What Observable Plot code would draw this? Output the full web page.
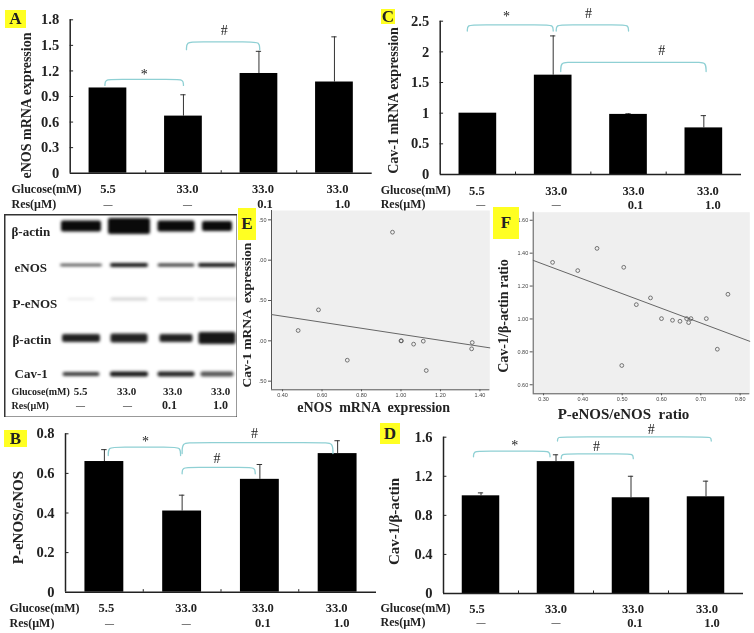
<!DOCTYPE html>
<html><head><meta charset="utf-8">
<style>
html,body{margin:0;padding:0;background:#fff;overflow:hidden}
#fig{position:relative;width:754px;height:633px;overflow:hidden;filter:blur(0.45px)}
#fig svg{position:absolute;background:transparent;max-width:none}
.tag{position:absolute;background:#ffff22;font:bold 17px "Liberation Serif",serif;color:#222;display:flex;align-items:center;justify-content:center}
</style>
<script src="https://cdn.jsdelivr.net/npm/d3@7"></script>
<script src="https://cdn.jsdelivr.net/npm/@observablehq/plot@0.6"></script>
</head><body><div id="fig"></div>
<script>
const serif = '"Liberation Serif", serif';
const teal = "#8fd0d4";

// ---------- bar panels data ----------
const glucose = ["5.5","33.0","33.0","33.0"];
const res = ["—","—","0.1","1.0"];

const valuesA = [1.0,0.67,1.17,1.07];
const errorsA = [null,0.92,1.43,1.60];
const ticksA = [0,0.3,0.6,0.9,1.2,1.5,1.8];

const valuesB = [0.66,0.41,0.57,0.70];
const errorsB = [0.72,0.49,0.645,0.765];
const ticksB = [0,0.2,0.4,0.6,0.8];

const valuesC = [1.0,1.62,0.98,0.76];
const errorsC = [null,2.26,0.99,0.96];
const ticksC = [0,0.5,1,1.5,2,2.5];

const valuesD = [1.0,1.35,0.98,0.99];
const errorsD = [1.03,1.42,1.20,1.15];
const ticksD = [0,0.4,0.8,1.2,1.6];

// ---------- scatter data ----------
const eX = [0.479,0.582,0.957,0.728,1.0,1.002,1.064,1.113,1.128,1.361,1.358];
const eY = [1.128,1.384,2.347,0.76,1.0,1.0,0.959,0.996,0.632,0.979,0.901];
const eFitX = [0.344,1.45];
const eFitY = [1.326,0.913];

const fX = [0.323,0.387,0.436,0.504,0.536,0.572,0.600,0.628,0.647,0.664,0.669,0.675,0.714,0.742,0.769,0.499];
const fY = [1.344,1.294,1.429,1.314,1.087,1.128,1.002,0.992,0.986,1.002,0.978,1.002,1.002,0.816,1.150,0.717];
const fFitX = [0.2737,0.8246];
const fFitY = [1.356,0.864];

// ---------- blot data ----------
const blotRows = ["β-actin","eNOS","P-eNOS","β-actin","Cav-1"];
const bandLength = [[40,42,37,30],[42,38,37,38],[27,37,37,40],[38,37,33,37],[37,38,37,33]];
const bandThick  = [[11,16,11,10],[2.5,4,3,4],[1.5,3,2.5,2],[8,9,8,12],[4,5,5,5]];
const bandDark   = [[1,1,1,1],[.75,.95,.85,.95],[.12,.18,.16,.16],[.9,.9,.9,.95],[.8,.95,.9,.7]];

const root = document.getElementById("fig");
function place(svg, left, top){ svg.style.left = left+"px"; svg.style.top = top+"px"; root.appendChild(svg); }
function tag(t,l,tp,w,h){ const d=document.createElement("div"); d.className="tag"; d.textContent=t;
  Object.assign(d.style,{left:l+"px",top:tp+"px",width:w+"px",height:h+"px"}); root.appendChild(d); }

function bracketLine(b){
  const [x1,x2,yb,yt] = b, c = 0.12;
  return [[x1,yb],[x1,yt],[x1+c,yt],[x2-c,yt],[x2,yt],[x2,yb]];
}

function barPanel(p){
  const data = p.values.map((v,i)=>({i:i+1,v,e:p.errors[i]}));
  const errs = data.filter(d=>d.e!=null);
  const w = p.w, h = p.h;
  const labelMarks = (arr,nudge,dy) => arr.map((t,i)=>Plot.text([t],{
    x:()=>i+1, frameAnchor:"bottom", lineAnchor:"middle", dy, dx:nudge[i], text:d=>d,
    fontSize: t==="—" ? 9 : 12.5, fontWeight:"bold", fill:"#222"}));
  const svg = Plot.plot({
    width:w, height:h,
    marginLeft:p.fx0-p.left, marginRight:p.left+w-p.fx1,
    marginTop:p.ftop-p.top, marginBottom:p.top+h-p.fbot,
    style:{fontFamily:serif,background:"transparent"},
    x:{type:"linear",domain:[0.5,4.5],axis:null},
    y:{type:"linear",domain:[0,p.max],axis:null},
    marks:[
      Plot.ruleX(errs,{x:"i",y1:"v",y2:"e",stroke:"#333",strokeWidth:1}),
      Plot.ruleY(errs,{x1:d=>d.i-0.035,x2:d=>d.i+0.035,y:"e",stroke:"#333",strokeWidth:1}),
      Plot.rectY(data,{x1:d=>d.i-0.25,x2:d=>d.i+0.25,y1:()=>0,y2:"v",fill:"#000"}),
      Plot.ruleX([0.5],{stroke:"#222",strokeWidth:1.5}),
      Plot.ruleY([0],{stroke:"#222",strokeWidth:1.5}),
      Plot.axisY({ticks:p.ticks,tickFormat:d=>String(d),tickSize:0,tickPadding:11,label:null,fontSize:14.5,fontWeight:"bold",fill:"#222"}),
      Plot.ruleY(p.ticks.slice(1),{x1:()=>0.5,x2:()=>0.545,stroke:"#222",strokeWidth:1}),
      Plot.ruleX([1.5,2.5,3.5],{y1:()=>0,y2:()=>p.max*0.016,stroke:"#222"}),
      ...p.brackets.map(b=>Plot.line(bracketLine(b),{x:d=>d[0],y:d=>d[1],curve:"basis",stroke:teal,strokeWidth:1.3})),
      ...p.notes.map(n=>Plot.text([n[0]],{x:()=>n[1],y:()=>n[2],text:d=>d,fontSize:14,fontWeight:"normal",fill:"#222"})),
      Plot.text([p.title],{x:()=>p.titleXY[0],y:()=>p.titleXY[1],text:d=>d,rotate:-90,fontSize:p.titleSize,fontWeight:"bold",fill:"#222"}),
      Plot.text(["Glucose(mM)"],{x:()=>p.rowX,frameAnchor:"bottom",lineAnchor:"middle",dy:p.dy[0],textAnchor:"start",text:d=>d,fontSize:12,fontWeight:"bold",fill:"#222"}),
      Plot.text(["Res(µM)"],{x:()=>p.rowX,frameAnchor:"bottom",lineAnchor:"middle",dy:p.dy[1],textAnchor:"start",text:d=>d,fontSize:12,fontWeight:"bold",fill:"#222"}),
      ...labelMarks(glucose,p.n1,p.dy[0]),
      ...labelMarks(res,p.n2,p.dy[1])
    ]
  });
  place(svg,p.left,p.top);
}

barPanel({left:0,top:0,w:377,h:212,fx0:69.7,fx1:371.7,ftop:19.3,fbot:172.7,max:1.8,
  values:valuesA,errors:errorsA,ticks:ticksA,title:"eNOS mRNA expression",titleSize:14,titleXY:[-0.08,0.794],
  rowX:-0.278,dy:[16,31],n1:[0,4,4,3],n2:[0,4,6,8],
  brackets:[[0.96,2.0,1.03,1.10],[2.04,3.01,1.45,1.54]],
  notes:[["*",1.48,1.16],["#",2.54,1.67]]});

barPanel({left:377,top:0,w:377,h:212,fx0:439.7,fx1:741,ftop:20.7,fbot:174,max:2.5,
  values:valuesC,errors:errorsC,ticks:ticksC,title:"Cav-1 mRNA expression",titleSize:14,titleXY:[-0.12,1.207],
  rowX:-0.29,dy:[16,30],n1:[-1,3,5,4],n2:[3,3,7,9],
  brackets:[[0.86,2.0,2.34,2.44],[2.04,3.0,2.34,2.44],[2.1,4.03,1.68,1.83]],
  notes:[["*",1.38,2.57],["#",2.47,2.63],["#",3.44,2.02]]});

barPanel({left:0,top:420,w:377,h:213,fx0:65,fx1:376,ftop:433.3,fbot:591.7,max:0.8,
  values:valuesB,errors:errorsB,ticks:ticksB,title:"P-eNOS/eNOS",titleSize:15,titleXY:[-0.105,0.377],
  rowX:-0.22,dy:[16,31],n1:[2,4,3,-1],n2:[5,4,3,4],
  brackets:[[1.05,1.98,0.69,0.733],[2.0,3.94,0.70,0.755],[2.0,2.94,0.598,0.63]],
  notes:[["*",1.53,0.76],["#",2.93,0.803],["#",2.45,0.677]]});

barPanel({left:377,top:420,w:377,h:213,fx0:443,fx1:743,ftop:436.7,fbot:593,max:1.6,
  values:valuesD,errors:errorsD,ticks:ticksD,title:"Cav-1/β-actin",titleSize:15,titleXY:[-0.153,0.737],
  rowX:-0.34,dy:[15,29],n1:[-4,0,2,1],n2:[0,0,4,6],
  brackets:[[0.90,1.92,1.40,1.457],[2.02,4.07,1.56,1.604],[2.07,3.03,1.38,1.43]],
  notes:[["*",1.45,1.51],["#",3.27,1.676],["#",2.54,1.505]]});

function scatter(p){
  const pts = p.xs.map((x,i)=>({x,y:p.ys[i]}));
  const svg = Plot.plot({
    width:p.w,height:p.h,
    marginLeft:p.fx0-p.left,marginRight:p.left+p.w-p.fx1,
    marginTop:p.ftop-p.top,marginBottom:p.top+p.h-p.fbot,
    style:{fontFamily:'"Liberation Sans",sans-serif',background:"transparent"},
    x:{type:"linear",domain:p.dx,axis:null},
    y:{type:"linear",domain:p.dy,axis:null},
    marks:[
      Plot.frame({fill:"#efefef",stroke:null}),
      Plot.ruleX([p.dx[0]],{stroke:"#555",strokeWidth:1}),
      Plot.ruleY([p.dy[0]],{stroke:"#555",strokeWidth:1}),
      Plot.axisX({ticks:p.xticks,tickFormat:d=>d3.format(".2f")(d),tickSize:2,tickPadding:1,fontSize:5.5,fill:"#444",stroke:"#555",label:null}),
      Plot.axisY({ticks:p.yticks,tickFormat:p.yfmt,tickSize:3,tickPadding:2,fontSize:5.5,fill:"#444",stroke:"#555",label:null}),
      Plot.line(p.fitX.map((x,i)=>[x,p.fitY[i]]),{x:d=>d[0],y:d=>d[1],stroke:"#666",strokeWidth:1}),
      Plot.dot(pts,{x:"x",y:"y",r:1.9,stroke:"#555",strokeWidth:0.8,fill:"none"}),
      Plot.text([p.xlabel],{frameAnchor:"bottom",lineAnchor:"middle",dy:p.xlDy,text:d=>d,fontFamily:serif,fontWeight:"bold",fontSize:p.xlSize,fill:"#222",dx:p.xlDx}),
      Plot.text([p.ylabel],{frameAnchor:"left",textAnchor:"middle",dx:p.ylDx,dy:p.ylDyy,rotate:-90,text:d=>d,fontFamily:serif,fontWeight:"bold",fontSize:p.ylSize,fill:"#222"})
    ]
  });
  place(svg,p.left,p.top);
}

scatter({left:238,top:205,w:254,h:225,fx0:271,fx1:489.3,ftop:210,fbot:389.3,
  xs:eX,ys:eY,fitX:eFitX,fitY:eFitY,dx:[0.344,1.45],dy:[0.393,2.616],
  xticks:[0.4,0.6,0.8,1.0,1.2,1.4],yticks:[0.5,1,1.5,2,2.5],yfmt:d=>d3.format(".2f")(d).replace(/^\d+/,""),
  xlabel:"eNOS  mRNA  expression",xlDy:18,xlDx:-7,xlSize:14,
  ylabel:"Cav-1 mRNA  expression",ylDx:-25,ylDyy:15,ylSize:13.5});

scatter({left:493,top:205,w:261,h:225,fx0:532.7,fx1:749.3,ftop:211.7,fbot:393.3,
  xs:fX,ys:fY,fitX:fFitX,fitY:fFitY,dx:[0.2737,0.8246],dy:[0.545,1.649],
  xticks:[0.3,0.4,0.5,0.6,0.7,0.8],yticks:[0.6,0.8,1,1.2,1.4,1.6],yfmt:d=>d3.format(".2f")(d),
  xlabel:"P-eNOS/eNOS  ratio",xlDy:20,xlDx:-18,xlSize:15,
  ylabel:"Cav-1/β-actin ratio",ylDx:-30,ylDyy:13,ylSize:14});

// ---------- western blot ----------
(function(){
  const laneX = [77,125,172,213];          // lane centres, panel units
  const rowY  = [12,51,85,124,160];        // row centres, panel units
  const bands = [];
  bandLength.forEach((r,ri)=>r.forEach((len,li)=>bands.push({
    x:laneX[li],y:rowY[ri],len,th:bandThick[ri][li],o:bandDark[ri][li]})));
  const rowLabels = [[7,17],[10,53],[8,89],[8,125],[10,159]];
  const svg = Plot.plot({
    width:233,height:203,margin:0,
    style:{fontFamily:serif,background:"transparent"},
    x:{type:"linear",domain:[0,233],axis:null},
    y:{type:"linear",domain:[0,203],range:[0,203],axis:null},
    marks:[
      Plot.rect(bands,{x1:d=>d.x-d.len/2,x2:d=>d.x+d.len/2,y1:d=>d.y-d.th/2,y2:d=>d.y+d.th/2,
        fill:"#0a0a0a",fillOpacity:d=>d.o,rx:2,className:"bands"}),
      Plot.frame({stroke:"#333",strokeWidth:2}),
      ...blotRows.map((t,i)=>Plot.text([t],{x:()=>rowLabels[i][0],y:()=>rowLabels[i][1],text:d=>d,textAnchor:"start",fontSize:13,fontWeight:"bold",fill:"#222"})),
      Plot.text(["Glucose(mM)"],{x:()=>7,y:()=>177,text:d=>d,textAnchor:"start",fontSize:10,fontWeight:"bold",fill:"#222"}),
      Plot.text(["Res(µM)"],{x:()=>7,y:()=>191,text:d=>d,textAnchor:"start",fontSize:10,fontWeight:"bold",fill:"#222"}),
      ...glucose.map((t,i)=>Plot.text([t],{x:()=>[76,122,168,216][i],y:()=>177,text:d=>d,fontSize:11,fontWeight:"bold",fill:"#222"})),
      ...res.map((t,i)=>Plot.text([t],{x:()=>[76,123,165,216][i],y:()=>191,text:d=>d,fontSize:t==="—"?9:12,fontWeight:"bold",fill:"#222"}))
    ]
  });
  d3.select(svg).selectAll("g.bands, g[aria-label='rect']").style("filter","blur(1.4px)");
  place(svg,4,214);
})();

tag("A",5,10,21,18);
tag("C",381,9,14,15);
tag("E",238,208,18,32);
tag("F",493,207,26,32);
tag("B",4,430,23,17);
tag("D",380,423,20,21);
</script></body></html>
